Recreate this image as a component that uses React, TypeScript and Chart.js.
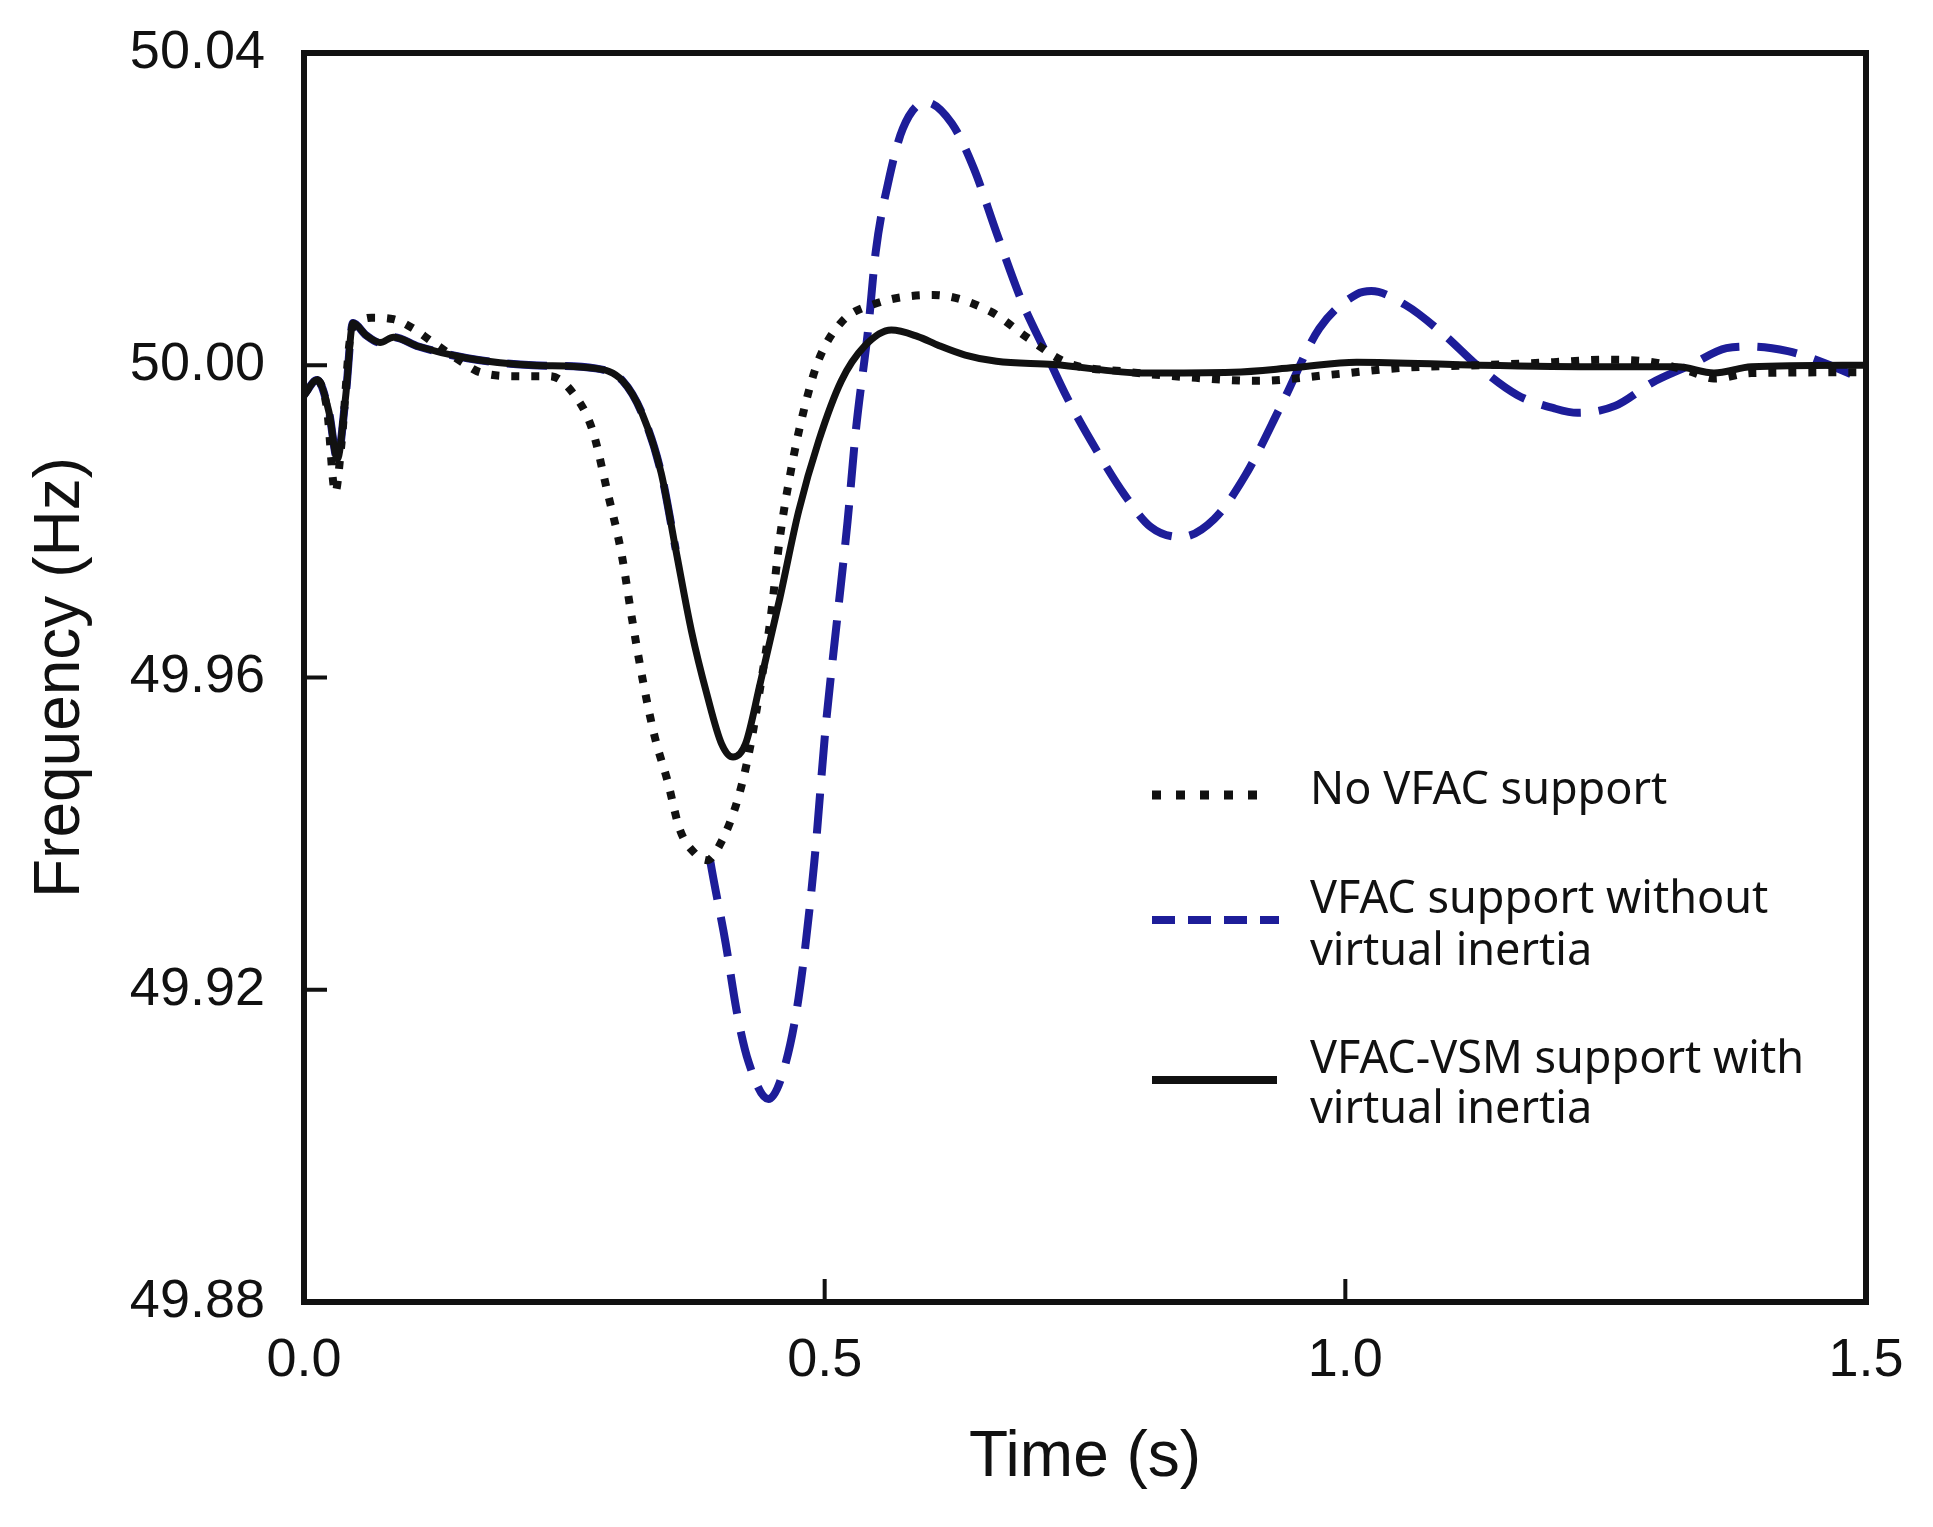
import { useEffect, useRef } from 'react';
import { Chart, registerables } from 'chart.js';

Chart.register(...registerables);

// No VFAC support (dotted black)
const noSupportTime = [
  0, 0.012, 0.022, 0.03, 0.036, 0.045, 0.055, 0.065, 0.086, 0.105, 0.121, 0.153, 0.169, 0.207,
  0.236, 0.258, 0.277, 0.291, 0.305, 0.315, 0.326, 0.337, 0.349, 0.361, 0.376, 0.387, 0.401,
  0.417, 0.428, 0.437, 0.448, 0.457, 0.468, 0.479, 0.494, 0.516, 0.549, 0.604, 0.659, 0.695,
  0.733, 0.788, 0.845, 0.916, 0.987, 1.058, 1.129, 1.2, 1.248, 1.295, 1.331, 1.354, 1.39, 1.5
];
const noSupportFreq = [
  49.9962, 49.9981, 49.9945, 49.9837, 49.99, 50.004, 50.0058, 50.0061, 50.0059, 50.0047, 50.0032,
  50.0003, 49.9991, 49.9986, 49.9986, 49.9965, 49.9917, 49.984, 49.9758, 49.9675, 49.9592,
  49.9523, 49.9468, 49.9405, 49.9374, 49.9366, 49.939, 49.9446, 49.9508, 49.9578, 49.9675,
  49.9779, 49.9868, 49.9937, 50.0006, 50.0055, 50.0079, 50.009, 50.0069, 50.0035, 50.0003,
  49.9992, 49.9985, 49.998, 49.9988, 49.9997, 50.0, 50.0004, 50.0007, 50.0004, 49.9992, 49.9983,
  49.999, 49.9991
];

// VFAC support without virtual inertia (dashed blue)
const noInertiaTime = [
  0, 0.0125, 0.024, 0.032, 0.04, 0.047, 0.06, 0.073, 0.086, 0.11, 0.157, 0.22, 0.28, 0.306,
  0.325, 0.343, 0.357, 0.372, 0.378, 0.39, 0.405, 0.416, 0.427, 0.446, 0.46, 0.475, 0.49, 0.501,
  0.512, 0.522, 0.53, 0.542, 0.549, 0.562, 0.575, 0.597, 0.622, 0.643, 0.665, 0.689, 0.711,
  0.733, 0.762, 0.788, 0.813, 0.842, 0.874, 0.904, 0.94, 0.975, 1.011, 1.025, 1.058, 1.094,
  1.129, 1.165, 1.2, 1.223, 1.259, 1.295, 1.331, 1.366, 1.388, 1.425, 1.46, 1.5
];
const noInertiaFreq = [
  49.9962, 49.9981, 49.994, 49.988, 49.996, 50.0054, 50.0038, 50.0029, 50.0036, 50.0024, 50.0009,
  50.0, 49.9996, 49.998, 49.9937, 49.9862, 49.9764, 49.966, 49.947, 49.9366, 49.9259, 49.9169,
  49.9107, 49.906, 49.9094, 49.919, 49.9363, 49.9537, 49.9675, 49.98, 49.9917, 50.0049, 50.0145,
  50.024, 50.0303, 50.0337, 50.031, 50.0253, 50.017, 50.0083, 50.002, 49.9958, 49.9889, 49.9834,
  49.9793, 49.978, 49.9803, 49.9859, 49.9953, 50.0047, 50.0091, 50.0095, 50.0077, 50.004,
  49.9997, 49.9962, 49.9945, 49.9939, 49.9948, 49.9978, 50.0, 50.0022, 50.0024, 50.0018,
  50.0003, 49.998
];
// where the blue trace leaves the solid one it is not seen in the original
const noInertiaHiddenFrom = 16;
const noInertiaHiddenTo = 18;

// VFAC-VSM support with virtual inertia (solid black)
const vsmTime = [
  0, 0.0125, 0.024, 0.032, 0.04, 0.047, 0.06, 0.073, 0.086, 0.11, 0.157, 0.22, 0.28, 0.306,
  0.325, 0.343, 0.357, 0.372, 0.387, 0.401, 0.412, 0.424, 0.438, 0.457, 0.475, 0.494, 0.516,
  0.538, 0.564, 0.589, 0.61, 0.635, 0.665, 0.72, 0.806, 0.892, 0.951, 1.011, 1.129, 1.248, 1.319,
  1.354, 1.39, 1.5
];
const vsmFreq = [
  49.9962, 49.9981, 49.994, 49.988, 49.996, 50.0054, 50.0038, 50.0029, 50.0036, 50.0024, 50.0009,
  50.0, 49.9996, 49.998, 49.9937, 49.9862, 49.9764, 49.966, 49.9578, 49.9515, 49.9498, 49.9515,
  49.9592, 49.9702, 49.9813, 49.9902, 49.998, 50.0024, 50.0045, 50.0037, 50.0025, 50.0013,
  50.0005, 50.0001, 49.999, 49.9991, 49.9997, 50.0004, 50.0, 49.9998, 49.9998, 49.999, 49.9998,
  50.0
];

const seriesNames = [
  'No VFAC support',
  'VFAC support without virtual inertia',
  'VFAC-VSM support with virtual inertia'
];
const legendLines = [
  ['No VFAC support'],
  ['VFAC support without', 'virtual inertia'],
  ['VFAC-VSM support with', 'virtual inertia']
];

const yTicks = [49.88, 49.92, 49.96, 50.0, 50.04];
const xTicks = [0, 0.5, 1.0, 1.5];
const yInnerTicks = [49.92, 49.96, 50.0];
const xInnerTicks = [0.5, 1.0];

const BLUE = '#1d1d99';
const INK = '#111';
const ARIAL = '"Liberation Sans", Arial, sans-serif';

const toPoints = (t: number[], f: number[]) => t.map((x, i) => ({ x, y: f[i] }));

// frame, inward ticks and the two-line legend
const framePlugin = {
  id: 'frameAndLegend',
  afterDraw(chart: any) {
    const { ctx, chartArea: a, scales } = chart;
    ctx.save();
    ctx.strokeStyle = INK;
    ctx.lineWidth = 4;
    ctx.beginPath();
    yInnerTicks.forEach((v) => {
      const y = scales.y.getPixelForValue(v);
      ctx.moveTo(a.left, y);
      ctx.lineTo(a.left + 23, y);
    });
    xInnerTicks.forEach((v) => {
      const x = scales.x.getPixelForValue(v);
      ctx.moveTo(x, a.bottom);
      ctx.lineTo(x, a.bottom - 23);
    });
    ctx.stroke();

    ctx.lineWidth = 6;
    ctx.strokeRect(a.left, a.top, a.right - a.left, a.bottom - a.top);

    // legend
    const sx = a.left + 848;
    const samples = [
      { y: a.top + 742, len: 110, color: INK, width: 9, dash: [9, 15] },
      { y: a.top + 867, len: 127, color: BLUE, width: 8, dash: [23, 13] },
      { y: a.top + 1027, len: 125, color: INK, width: 8, dash: [] as number[] }
    ];
    const baselines = [[a.top + 751], [a.top + 860, a.top + 912], [a.top + 1020, a.top + 1070]];
    samples.forEach((s, i) => {
      ctx.beginPath();
      ctx.strokeStyle = s.color;
      ctx.lineWidth = s.width;
      ctx.lineCap = 'butt';
      ctx.setLineDash(s.dash);
      ctx.moveTo(sx, s.y);
      ctx.lineTo(sx + s.len, s.y);
      ctx.stroke();
      ctx.setLineDash([]);
      ctx.fillStyle = INK;
      ctx.font = '45px "Noto Sans", "Open Sans", sans-serif';
      ctx.textAlign = 'left';
      ctx.textBaseline = 'alphabetic';
      legendLines[i].forEach((line, j) => ctx.fillText(line, a.left + 1006, baselines[i][j]));
    });
    ctx.restore();
  }
};

export default function App() {
  const canvasRef = useRef<HTMLCanvasElement>(null);

  useEffect(() => {
    if (!canvasRef.current) return;
    const chart = new Chart(canvasRef.current, {
      type: 'line',
      data: {
        datasets: [
          {
            label: seriesNames[2],
            data: toPoints(vsmTime, vsmFreq),
            borderColor: INK,
            borderWidth: 7,
            order: 0
          },
          {
            label: seriesNames[0],
            data: toPoints(noSupportTime, noSupportFreq),
            borderColor: INK,
            borderWidth: 8,
            borderDash: [8, 12],
            order: 1
          },
          {
            label: seriesNames[1],
            data: toPoints(noInertiaTime, noInertiaFreq),
            borderColor: BLUE,
            borderWidth: 8,
            borderDash: [40, 18],
            order: 2,
            segment: {
              borderColor: (c: any) =>
                c.p0DataIndex >= noInertiaHiddenFrom && c.p0DataIndex <= noInertiaHiddenTo
                  ? 'rgba(0,0,0,0)'
                  : BLUE
            }
          }
        ]
      },
      options: {
        animation: false,
        responsive: false,
        devicePixelRatio: 1,
        elements: {
          point: { radius: 0 },
          line: { cubicInterpolationMode: 'monotone', fill: false }
        },
        layout: { padding: { left: 0, top: 53, right: 67, bottom: 0 } },
        plugins: {
          legend: { display: false },
          tooltip: { enabled: false }
        },
        scales: {
          x: {
            type: 'linear',
            min: 0,
            max: 1.5,
            afterBuildTicks: (scale: any) => {
              scale.ticks = xTicks.map((value) => ({ value }));
            },
            afterFit: (scale: any) => {
              scale.height = 225;
              scale.paddingLeft = 0;
              scale.paddingRight = 0;
            },
            grid: { display: false, drawTicks: false },
            border: { display: false },
            ticks: {
              padding: 27,
              color: INK,
              font: { family: ARIAL, size: 54 },
              maxRotation: 0,
              callback: (v: any) => Number(v).toFixed(1)
            },
            title: {
              display: true,
              text: 'Time (s)',
              color: INK,
              font: { family: ARIAL, size: 64 },
              padding: { top: 0, bottom: 30 }
            }
          },
          y: {
            type: 'linear',
            min: 49.88,
            max: 50.04,
            afterBuildTicks: (scale: any) => {
              scale.ticks = yTicks.map((value) => ({ value }));
            },
            afterFit: (scale: any) => {
              scale.width = 304;
              scale.paddingTop = 0;
              scale.paddingBottom = 0;
            },
            grid: { display: false, drawTicks: false },
            border: { display: false },
            ticks: {
              padding: 39,
              color: INK,
              font: { family: ARIAL, size: 54 },
              callback: (v: any) => Number(v).toFixed(2)
            },
            title: {
              display: true,
              text: 'Frequency (Hz)',
              color: INK,
              font: { family: ARIAL, size: 64 },
              padding: { top: 23, bottom: 0 }
            }
          }
        }
      },
      plugins: [framePlugin]
    });
    return () => chart.destroy();
  }, []);

  return (
    <div style={{ position: 'absolute', left: 0, top: 0, width: 1933, height: 1527, background: '#fff' }}>
      <canvas ref={canvasRef} width={1933} height={1527} />
    </div>
  );
}
